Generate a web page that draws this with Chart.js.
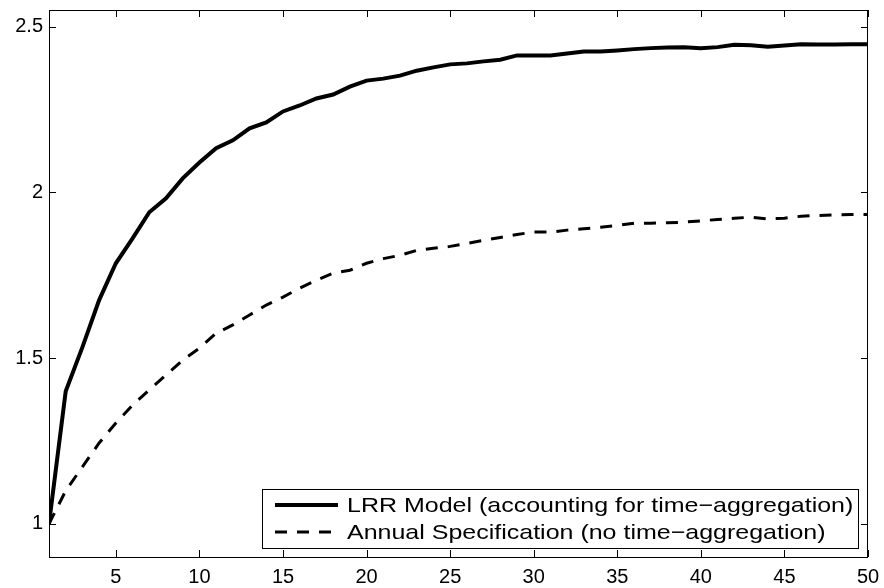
<!DOCTYPE html>
<html>
<head>
<meta charset="utf-8">
<script src="https://cdn.jsdelivr.net/npm/chart.js@4/dist/chart.umd.min.js"></script>
<style>
  html, body { margin: 0; padding: 0; background: #fff; }
  #wrap { position: relative; width: 884px; height: 588px; }
</style>
</head>
<body>
<div id="wrap"><canvas id="chart"></canvas></div>
<script>
// --- data ---
const horizons = [1, 2, 3, 4, 5, 6, 7, 8, 9, 10, 11, 12, 13, 14, 15, 16, 17, 18, 19, 20,
  21, 22, 23, 24, 25, 26, 27, 28, 29, 30, 31, 32, 33, 34, 35, 36, 37, 38, 39, 40,
  41, 42, 43, 44, 45, 46, 47, 48, 49, 50];

const lrrModel = [1.00, 1.40, 1.533, 1.675, 1.786, 1.861, 1.94, 1.982, 2.042, 2.09,
  2.133, 2.157, 2.193, 2.211, 2.244, 2.262, 2.283, 2.295, 2.319, 2.337,
  2.343, 2.352, 2.367, 2.377, 2.386, 2.389, 2.395, 2.40, 2.413, 2.413,
  2.413, 2.419, 2.425, 2.425, 2.428, 2.432, 2.435, 2.437, 2.438, 2.435,
  2.438, 2.445, 2.444, 2.439, 2.443, 2.447, 2.446, 2.446, 2.447, 2.447];

const annualSpec = [1.00, 1.10, 1.172, 1.244, 1.304, 1.358, 1.404, 1.449, 1.494, 1.53,
  1.575, 1.60, 1.63, 1.66, 1.684, 1.711, 1.735, 1.756, 1.765, 1.786,
  1.80, 1.81, 1.825, 1.831, 1.837, 1.846, 1.855, 1.864, 1.873, 1.88,
  1.88, 1.886, 1.89, 1.895, 1.90, 1.907, 1.907, 1.908, 1.91, 1.914,
  1.918, 1.922, 1.925, 1.92, 1.922, 1.928, 1.93, 1.932, 1.933, 1.933];

const xTicks = [5, 10, 15, 20, 25, 30, 35, 40, 45, 50];
const yTicks = [1, 1.5, 2, 2.5];

const seriesLabels = [
  'LRR Model (accounting for time\u2212aggregation)',
  'Annual Specification (no time\u2212aggregation)'
];

const fontFamily = '"Liberation Sans", Arial, Helvetica, sans-serif';

// Matlab-style box with inward ticks + legend in the lower right
const matlabFrame = {
  id: 'matlabFrame',
  afterDraw(chart) {
    const { ctx, chartArea: a, scales } = chart;
    const tl = 7;
    ctx.save();
    ctx.strokeStyle = '#000';
    ctx.lineWidth = 1;
    ctx.strokeRect(a.left + 0.5, a.top + 0.5, a.right - a.left - 1, a.bottom - a.top);
    ctx.beginPath();
    xTicks.forEach(v => {
      const x = Math.round(scales.x.getPixelForValue(v)) + 0.5;
      ctx.moveTo(x, a.bottom); ctx.lineTo(x, a.bottom - tl);
      ctx.moveTo(x, a.top); ctx.lineTo(x, a.top + tl);
    });
    yTicks.forEach(v => {
      const y = Math.round(scales.y.getPixelForValue(v)) + 0.5;
      ctx.moveTo(a.left, y); ctx.lineTo(a.left + tl, y);
      ctx.moveTo(a.right, y); ctx.lineTo(a.right - tl, y);
    });
    ctx.stroke();

    // legend box
    const lx = 262, ly = 489, lw = 596, lh = 59;
    ctx.fillStyle = '#fff';
    ctx.fillRect(lx, ly, lw, lh);
    ctx.strokeRect(lx + 0.5, ly + 0.5, lw, lh);
    const rows = [505, 532];
    chart.data.datasets.forEach((ds, i) => {
      ctx.beginPath();
      ctx.lineWidth = ds.borderWidth;
      ctx.setLineDash(ds.borderDash || []);
      ctx.moveTo(275, rows[i]);
      ctx.lineTo(338, rows[i]);
      ctx.stroke();
      ctx.setLineDash([]);
      ctx.save();
      ctx.translate(347, rows[i]);
      ctx.scale(1.19, 1);
      ctx.fillStyle = '#000';
      ctx.font = '21px ' + fontFamily;
      ctx.textBaseline = 'middle';
      ctx.fillText(ds.label, 0, 1);
      ctx.restore();
    });
    ctx.restore();
  }
};

new Chart(document.getElementById('chart'), {
  type: 'line',
  data: {
    labels: horizons,
    datasets: [
      {
        label: seriesLabels[0],
        data: lrrModel,
        borderColor: '#000',
        borderWidth: 4,
        pointRadius: 0,
        tension: 0
      },
      {
        label: seriesLabels[1],
        data: annualSpec,
        borderColor: '#000',
        borderWidth: 3,
        borderDash: [12, 10],
        pointRadius: 0,
        tension: 0
      }
    ]
  },
  options: {
    responsive: true,
    maintainAspectRatio: false,
    animation: false,
    layout: { padding: { top: 10, right: 16, left: 0, bottom: 0 } },
    plugins: {
      legend: { display: false },
      tooltip: { enabled: false }
    },
    scales: {
      x: {
        type: 'linear',
        min: 1,
        max: 50,
        afterBuildTicks: s => { s.ticks = xTicks.map(v => ({ value: v })); },
        afterFit: s => { s.height = 31; s.paddingLeft = 0; s.paddingRight = 0; },
        grid: { display: false, drawTicks: false },
        border: { display: false },
        ticks: {
          color: '#000',
          padding: 8,
          maxRotation: 0,
          font: { family: fontFamily, size: 20 }
        }
      },
      y: {
        min: 0.9,
        max: 2.55,
        afterBuildTicks: s => { s.ticks = yTicks.map(v => ({ value: v })); },
        afterFit: s => { s.width = 49; s.paddingTop = 0; s.paddingBottom = 0; },
        grid: { display: false, drawTicks: false },
        border: { display: false },
        ticks: {
          color: '#000',
          padding: 6,
          callback: v => String(v),
          font: { family: fontFamily, size: 20 }
        }
      }
    }
  },
  plugins: [matlabFrame]
});
</script>
</body>
</html>
